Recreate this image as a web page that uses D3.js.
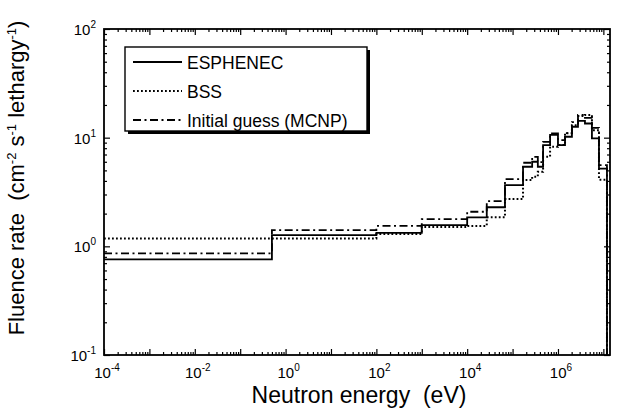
<!DOCTYPE html>
<html>
<head>
<meta charset="utf-8">
<script src="https://cdn.jsdelivr.net/npm/d3@7"></script>
<style>
  body { margin: 0; background: #fff; }
  svg { font-family: "Liberation Sans", Arial, sans-serif; }
</style>
</head>
<body>
<svg width="619" height="418"></svg>
<script>
// bin edges (eV) of the unfolded spectrum
var binEdges = [1e-4, 0.5, 100, 1e3, 1e4, 2.7e4, 6.8e4, 1.7e5, 2.7e5, 3.6e5, 4.7e5,
                6.7e5, 1e6, 1.43e6, 2.03e6, 2.76e6, 3.93e6, 5.6e6, 8e6, 1.2e7];

// fluence rate per bin (cm-2 s-1 lethargy-1)
var esphenec = [0.76, 1.27, 1.33, 1.57, 1.85, 2.29, 3.66, 5.4, 6.0, 5.4,
                8.55, 10.6, 8.55, 10.2, 12.6, 14.3, 13.5, 9.86, 5.2];
var bss      = [1.18, 1.18, 1.30, 1.51, 1.54, 1.85, 2.72, 4.07, 4.36, 4.85,
                6.67, 8.25, 8.55, 11.0, 13.0, 15.8, 16.2, 11.7, 4.1];
var mcnp     = [0.86, 1.41, 1.54, 1.78, 2.08, 2.61, 4.16, 5.88, 6.67, 5.95,
                9.16, 10.96, 9.5, 11.0, 13.9, 16.2, 15.2, 12.3, 5.6];

var seriesNames = ["ESPHENEC", "BSS", "Initial guess (MCNP)"];
var xTickValues = [1e-4, 1e-2, 1, 1e2, 1e4, 1e6];
var xTickExp = ["-4", "-2", "0", "2", "4", "6"];
var yTickValues = [0.1, 1, 10, 100];
var yTickExp = ["-1", "0", "1", "2"];

var svg = d3.select("svg"),
    margin = {top: 29, right: 9, bottom: 63, left: 104},
    width = +svg.attr("width") - margin.left - margin.right,
    height = +svg.attr("height") - margin.top - margin.bottom,
    g = svg.append("g").attr("transform", "translate(" + margin.left + "," + margin.top + ")");

var x = d3.scaleLog().domain([1e-4, 1.4e7]).range([0, width]);
var y = d3.scaleLog().domain([0.1, 100]).range([height, 0]);

// minor ticks, every 2..9 per decade
function minors(lo, hi, top) {
  var out = [];
  for (var e = lo; e <= hi; e++) {
    for (var k = 2; k <= 9; k++) {
      var v = k * Math.pow(10, e);
      if (v <= top) out.push(v);
    }
  }
  return out;
}
var xMajors = d3.range(-4, 8).map(function(e) { return Math.pow(10, e); }).filter(function(v) { return v <= 1.4e7; });
var xMinors = minors(-4, 7, 1.4e7);
var yMajors = yTickValues;
var yMinors = minors(-1, 1, 100);

function tickAxis(axisFn, scale, vals, size, transform) {
  g.append("g")
    .attr("class", "axis")
    .attr("transform", transform)
    .call(axisFn(scale).tickValues(vals).tickSize(size).tickFormat(""))
    .call(function(a) { a.select(".domain").remove(); });
}
tickAxis(d3.axisBottom, x, xMajors, -6, "translate(0," + height + ")");
tickAxis(d3.axisBottom, x, xMinors, -3, "translate(0," + height + ")");
tickAxis(d3.axisTop, x, xMajors, -6, "translate(0,0)");
tickAxis(d3.axisTop, x, xMinors, -3, "translate(0,0)");
tickAxis(d3.axisLeft, y, yMajors, -6, "translate(0,0)");
tickAxis(d3.axisLeft, y, yMinors, -3, "translate(0,0)");
tickAxis(d3.axisRight, y, yMajors, -6, "translate(" + width + ",0)");
tickAxis(d3.axisRight, y, yMinors, -3, "translate(" + width + ",0)");
g.selectAll(".axis line").attr("stroke", "#000").attr("stroke-width", 1.2);

// frame
g.append("rect")
  .attr("width", width).attr("height", height)
  .attr("fill", "none").attr("stroke", "#000").attr("stroke-width", 1.8);

// tick labels with superscript exponents
xTickValues.forEach(function(v, i) {
  var t = g.append("text")
    .attr("x", x(v) + 3)
    .attr("y", height + 23)
    .attr("text-anchor", "middle")
    .attr("font-size", 15);
  t.append("tspan").text("10");
  t.append("tspan").attr("dy", -7).attr("font-size", 10).text(xTickExp[i]);
});
yTickValues.forEach(function(v, i) {
  var t = g.append("text")
    .attr("x", -8)
    .attr("y", y(v) + 6)
    .attr("text-anchor", "end")
    .attr("font-size", 15);
  t.append("tspan").text("10");
  t.append("tspan").attr("dy", -7).attr("font-size", 10).text(yTickExp[i]);
});

// axis titles
svg.append("text")
  .attr("x", 359)
  .attr("y", 403)
  .attr("text-anchor", "middle")
  .attr("font-size", 23)
  .text("Neutron energy\u00a0\u00a0(eV)");

var yt = svg.append("text")
  .attr("transform", "translate(24," + 178 + ") rotate(-90)")
  .attr("text-anchor", "middle")
  .attr("font-size", 22);
yt.append("tspan").text("Fluence rate\u00a0\u00a0(cm");
yt.append("tspan").attr("dy", -8).attr("font-size", 13).text("-2");
yt.append("tspan").attr("dy", 8).text(" s");
yt.append("tspan").attr("dy", -8).attr("font-size", 13).text("-1");
yt.append("tspan").attr("dy", 8).text(" lethargy");
yt.append("tspan").attr("dy", -8).attr("font-size", 13).text("-1");
yt.append("tspan").attr("dy", 8).text(")");

// step histograms
var styles = [
  {data: esphenec, dash: null, width: 1.8},
  {data: bss, dash: "1.8,2.2", width: 2},
  {data: mcnp, dash: "8,3.5,2,3.5", width: 1.8}
];
var stepLine = d3.line()
  .x(function(d) { return x(d[0]); })
  .y(function(d) { return y(d[1]); })
  .curve(d3.curveStepAfter);

g.append("clipPath").attr("id", "clip")
  .append("rect").attr("width", width).attr("height", height);

styles.forEach(function(s) {
  var pts = s.data.map(function(v, i) { return [binEdges[i], v]; });
  var last = binEdges[binEdges.length - 1];
  pts.push([last, s.data[s.data.length - 1]]);
  pts.push([last, 0.1]);
  g.append("path")
    .datum(pts)
    .attr("clip-path", "url(#clip)")
    .attr("fill", "none")
    .attr("stroke", "#000")
    .attr("stroke-width", s.width)
    .attr("stroke-dasharray", s.dash)
    .attr("d", stepLine);
});

// legend
var lg = svg.append("g").attr("transform", "translate(125,47)");
lg.append("rect").attr("x", 3).attr("y", 3).attr("width", 242).attr("height", 84).attr("fill", "#000");
lg.append("rect").attr("width", 242).attr("height", 84)
  .attr("fill", "#fff").attr("stroke", "#000").attr("stroke-width", 1.4);
styles.forEach(function(s, i) {
  var yy = 15 + i * 29;
  lg.append("line")
    .attr("x1", 8).attr("x2", 57).attr("y1", yy).attr("y2", yy)
    .attr("stroke", "#000").attr("stroke-width", s.width)
    .attr("stroke-dasharray", s.dash);
  lg.append("text")
    .attr("x", 62).attr("y", yy + 7)
    .attr("font-size", 17.5)
    .text(seriesNames[i]);
});
</script>
</body>
</html>
